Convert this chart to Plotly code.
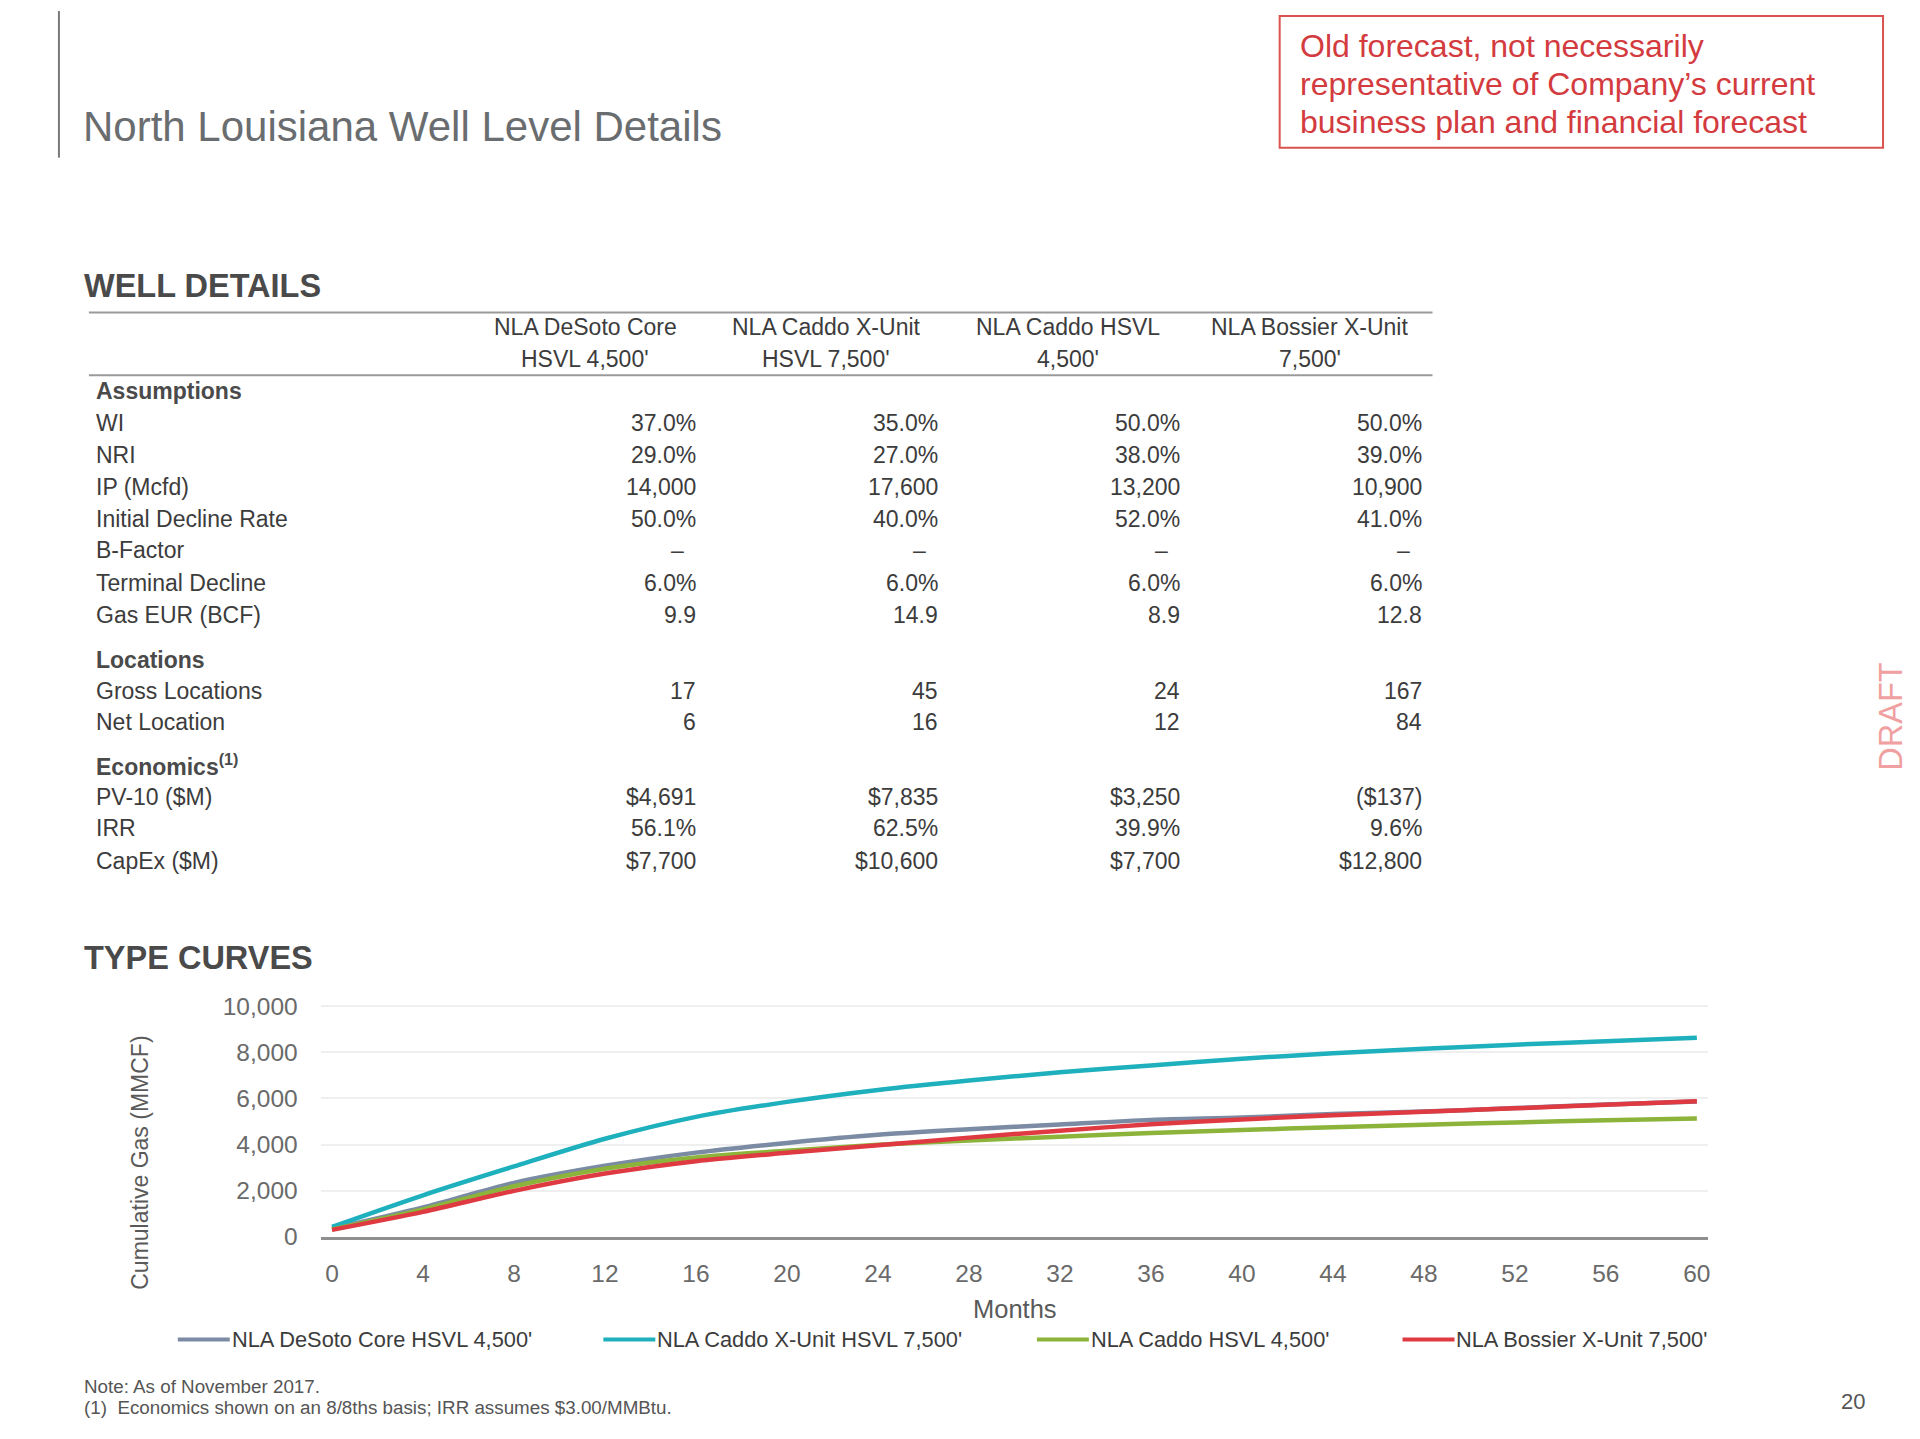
import plotly.graph_objects as go

# ---------------- data ----------------
months = [0, 4, 8, 12, 16, 20, 24, 28, 32, 36, 40, 44, 48, 52, 56, 60]
desoto_core = [350, 1270, 2340, 3080, 3650, 4070, 4420, 4660, 4870, 5070, 5170, 5320, 5430, 5580, 5740, 5870]
caddo_xunit = [430, 1800, 3050, 4250, 5200, 5850, 6370, 6780, 7130, 7430, 7720, 7960, 8150, 8330, 8480, 8630]
caddo_hsvl = [320, 1190, 2190, 2950, 3440, 3730, 3990, 4180, 4340, 4500, 4630, 4750, 4860, 4960, 5050, 5130]
bossier_xunit = [300, 1080, 1990, 2740, 3280, 3640, 3970, 4300, 4600, 4880, 5090, 5270, 5420, 5570, 5730, 5880]

series_names = ["NLA DeSoto Core HSVL 4,500'", "NLA Caddo X-Unit HSVL 7,500'",
                "NLA Caddo HSVL 4,500'", "NLA Bossier X-Unit 7,500'"]

col_headers = [["NLA DeSoto Core", "HSVL 4,500'"], ["NLA Caddo X-Unit", "HSVL 7,500'"],
               ["NLA Caddo HSVL", "4,500'"], ["NLA Bossier X-Unit", "7,500'"]]

section_labels = ["Assumptions", "Locations", "Economics<sup>(1)</sup>"]
row_labels = ["WI", "NRI", "IP (Mcfd)", "Initial Decline Rate", "B-Factor", "Terminal Decline",
              "Gas EUR (BCF)", "Gross Locations", "Net Location", "PV-10 ($M)", "IRR", "CapEx ($M)"]

desoto_vals = ["37.0%", "29.0%", "14,000", "50.0%", "–", "6.0%", "9.9", "17", "6", "$4,691", "56.1%", "$7,700"]
caddo_x_vals = ["35.0%", "27.0%", "17,600", "40.0%", "–", "6.0%", "14.9", "45", "16", "$7,835", "62.5%", "$10,600"]
caddo_hsvl_vals = ["50.0%", "38.0%", "13,200", "52.0%", "–", "6.0%", "8.9", "24", "12", "$3,250", "39.9%", "$7,700"]
bossier_vals = ["50.0%", "39.0%", "10,900", "41.0%", "–", "6.0%", "12.8", "167", "84", "($137)", "9.6%", "$12,800"]

y_ticks = [0, 2000, 4000, 6000, 8000, 10000]
x_ticks = list(range(0, 61, 4))

# ---------------- layout helpers ----------------
W, H = 1920, 1439
FONT = "Liberation Sans, Arial, sans-serif"
colors = ["#7a8ba3", "#1fb0bd", "#8cb43a", "#df3a42"]

def X(px):
    return px / W

def Y(py):
    # slight vertical calibration of the slide layout
    return 1 - (py * 1.0159 - 11.25) / H

annotations = []
shapes = []

def txt(x, y, s, size, color, xanchor="left", bold=False, **kw):
    annotations.append(dict(
        x=X(x), y=Y(y), xref="paper", yref="paper", text=s, showarrow=False,
        xanchor=xanchor, yanchor="middle",
        font=dict(family=FONT, size=size, color=color, weight="bold" if bold else "normal"),
        **kw))

def hline(x0, x1, y, color, width):
    shapes.append(dict(type="line", xref="paper", yref="paper", x0=X(x0), x1=X(x1),
                       y0=Y(y), y1=Y(y), line=dict(color=color, width=width)))

fig = go.Figure()

for name, vals, c in zip(series_names, [desoto_core, caddo_xunit, caddo_hsvl, bossier_xunit], colors):
    fig.add_trace(go.Scatter(x=months, y=vals, mode="lines", name=name,
                             line=dict(color=c, width=4.5, shape="spline", smoothing=0.8)))

# ---------------- header ----------------
shapes.append(dict(type="line", xref="paper", yref="paper", x0=X(59), x1=X(59), y0=1, y1=Y(158),
                   line=dict(color="#7a7a7a", width=2)))
txt(81, 127, "North Louisiana Well Level Details", 42, "#6a6d70")

shapes.append(dict(type="rect", xref="paper", yref="paper", x0=X(1281), x1=X(1885), y0=Y(16), y1=Y(148),
                   line=dict(color="#d9534f", width=2)))
for i, line in enumerate(["Old forecast, not necessarily",
                          "representative of Company’s current",
                          "business plan and financial forecast"]):
    txt(1299, 46 + i * 38, line, 32, "#d33b3f")

# ---------------- well details table ----------------
txt(82, 287, "WELL DETAILS", 32.5, "#4a4a4a", bold=True)
hline(89, 1434, 313, "#9a9a9a", 2)
hline(89, 1434, 376, "#9a9a9a", 2)

col_centers = [586, 827, 1069, 1311]
col_rights = [699, 941, 1183, 1425]
for cx, (l1, l2) in zip(col_centers, col_headers):
    txt(cx, 328, l1, 23, "#3c3c3c", xanchor="center")
    txt(cx, 360, l2, 23, "#3c3c3c", xanchor="center")

section_y = [392, 661, 766]
row_y = [424, 456, 488, 520, 551, 584, 616, 692, 723, 798, 830, 863]
for s, y in zip(section_labels, section_y):
    txt(94, y, s, 23, "#4a4a4a", bold=True)
for s, y in zip(row_labels, row_y):
    txt(94, y, s, 23, "#3c3c3c")
for cr, vals in zip(col_rights, [desoto_vals, caddo_x_vals, caddo_hsvl_vals, bossier_vals]):
    for v, y in zip(vals, row_y):
        if v == "–":
            txt(cr - 12, y, v, 23, "#3c3c3c", xanchor="right")
        else:
            txt(cr, y, v, 23, "#3c3c3c", xanchor="right")

# ---------------- type curves ----------------
txt(82, 960, "TYPE CURVES", 32.5, "#4a4a4a", bold=True)
annotations.append(dict(x=X(140), y=Y(1165), xref="paper", yref="paper", text="Cumulative Gas (MMCF)",
                        showarrow=False, textangle=-90, xanchor="center", yanchor="middle",
                        font=dict(family=FONT, size=23, color="#5a5a5a")))
txt(1016, 1311, "Months", 25.5, "#5a5a5a", xanchor="center")

legend_x = [178, 604, 1038, 1404]
for lx, name, c in zip(legend_x, series_names, colors):
    hline(lx, lx + 52, 1342, c, 4)
    txt(lx + 52, 1342, name, 21.8, "#3c3c3c")

txt(82, 1389, "Note: As of November 2017.", 18.8, "#555555")
txt(82, 1410, "(1)  Economics shown on an 8/8ths basis; IRR assumes $3.00/MMBtu.", 18.8, "#555555")
txt(1855, 1404, "20", 22, "#555555", xanchor="center")

annotations.append(dict(x=X(1893), y=Y(718), xref="paper", yref="paper", text="DRAFT", showarrow=False,
                        textangle=-90, xanchor="center", yanchor="middle",
                        font=dict(family=FONT, size=32.5, color="#f0a0a0")))

fig.update_layout(
    width=W, height=H, margin=dict(l=0, r=0, t=0, b=0),
    paper_bgcolor="white", plot_bgcolor="white", showlegend=False,
    annotations=annotations, shapes=shapes,
    xaxis=dict(domain=[X(321), X(1710)], range=[-0.5, 60.5], tickvals=x_ticks,
               showgrid=False, zeroline=False, showline=True, linecolor="#8f8f8f", linewidth=2.5,
               ticks="", ticklabelstandoff=13,
               tickfont=dict(family=FONT, size=24.5, color="#6a6a6a")),
    yaxis=dict(domain=[Y(1239), Y(1006)], range=[0, 10087], tickvals=y_ticks, tickformat=",",
               showgrid=True, gridcolor="#efefef", gridwidth=1.5, zeroline=False, showline=False,
               ticks="", ticklabelstandoff=22,
               tickfont=dict(family=FONT, size=24.5, color="#6a6a6a")),
)

fig.write_html("out.html", config={"displayModeBar": False},
               post_script="document.body.style.margin='0';document.body.style.overflow='hidden';")
